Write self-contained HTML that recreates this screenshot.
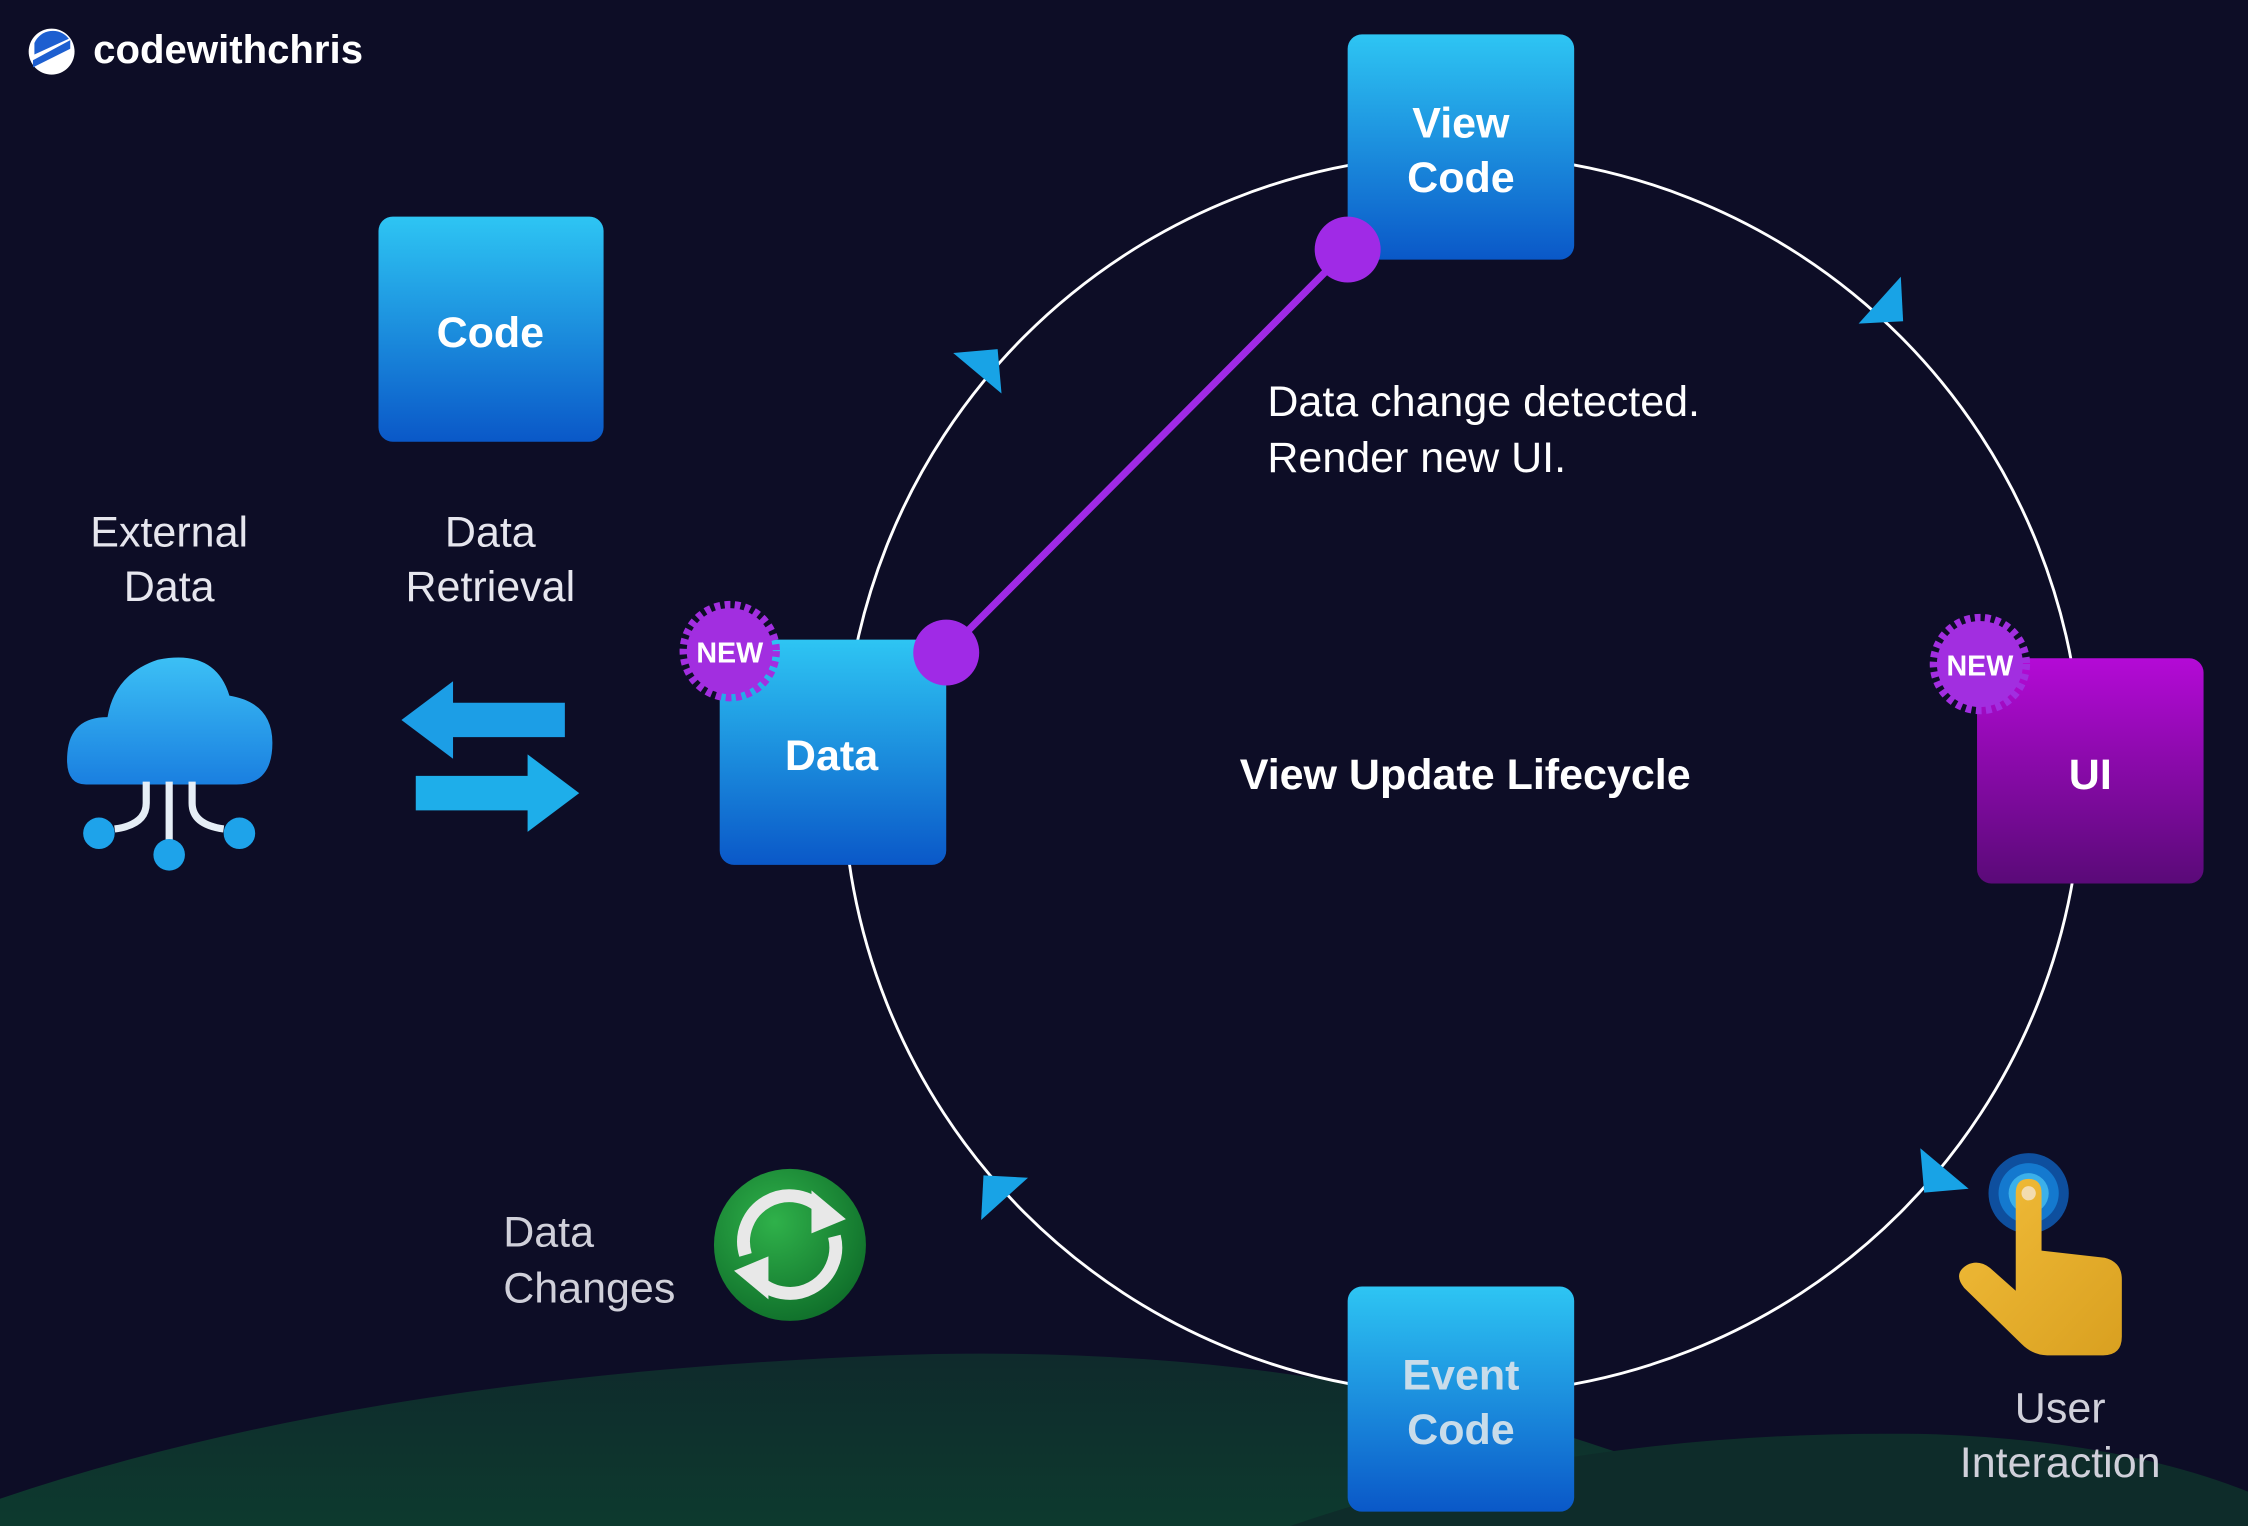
<!DOCTYPE html>
<html><head><meta charset="utf-8">
<style>
html,body{margin:0;padding:0;background:#0d0d26;overflow:hidden}
svg{display:block}
text{font-family:"Liberation Sans",sans-serif}
</style></head><body>
<svg width="2248" height="1526" viewBox="0 0 1568 1064" preserveAspectRatio="none" xmlns="http://www.w3.org/2000/svg">
<defs>
<linearGradient id="blue" x1="0" y1="0" x2="0" y2="1"><stop offset="0" stop-color="#2ec5f3"/><stop offset="1" stop-color="#0a58c8"/></linearGradient>
<linearGradient id="purp" x1="0" y1="0" x2="0" y2="1"><stop offset="0" stop-color="#b40ad6"/><stop offset="1" stop-color="#5a0a78"/></linearGradient>
<linearGradient id="hill" x1="0" y1="0" x2="0" y2="1"><stop offset="0" stop-color="#0f2a2c"/><stop offset="1" stop-color="#0d3a2e"/></linearGradient>
<linearGradient id="cloud" x1="0" y1="0" x2="0" y2="1"><stop offset="0" stop-color="#3cc0f5"/><stop offset="1" stop-color="#1a7fe0"/></linearGradient>
<linearGradient id="hand" x1="0" y1="0" x2="1" y2="1"><stop offset="0" stop-color="#f2bd3a"/><stop offset="1" stop-color="#d9a020"/></linearGradient>
<radialGradient id="green" cx="0.4" cy="0.35" r="0.7"><stop offset="0" stop-color="#2fb14a"/><stop offset="1" stop-color="#0f6e2a"/></radialGradient>
<polygon id="arr" points="6,0 -16,-22 -16,22" fill="#18a3e6"/>
</defs>
<rect width="1568" height="1064" fill="#0d0d26"/>
<!-- hills -->
<path d="M0 1064 L0 1045 Q 250 960 620 945 Q 900 935 1120 1010 Q 1200 1035 1250 1064 Z" fill="url(#hill)"/>
<path d="M900 1064 Q 1100 995 1350 1000 Q 1480 1005 1568 1040 L1568 1064 Z" fill="#0e2c2a"/>
<!-- logo -->
<circle cx="36" cy="36" r="16" fill="#fff"/>
<path d="M23 42 L49 28 L49 34 L23 47 Z" fill="#1d5fd0"/>
<path d="M24 30 A14 14 0 0 1 48 27 L24 38Z" fill="#1d5fd0"/>
<text x="65" y="44" font-size="28" font-weight="bold" fill="#fff">codewithchris</text>
<!-- cycle circle -->
<circle cx="1020" cy="540" r="432" fill="none" stroke="#fff" stroke-width="2"/>
<use href="#arr" transform="translate(692,248) rotate(-50)"/>
<use href="#arr" transform="translate(1323,220) rotate(42)"/>
<use href="#arr" transform="translate(1346,827) rotate(130)"/>
<use href="#arr" transform="translate(690,824) rotate(228)"/>
<!-- purple connector -->
<line x1="660" y1="455" x2="940" y2="174" stroke="#a02ae6" stroke-width="5"/>
<!-- boxes -->
<rect x="940" y="24" width="158" height="157" rx="10" fill="url(#blue)"/>
<text x="1019" y="96" font-size="30" font-weight="bold" fill="#fff" text-anchor="middle">View</text>
<text x="1019" y="134" font-size="30" font-weight="bold" fill="#fff" text-anchor="middle">Code</text>
<rect x="264" y="151" width="157" height="157" rx="10" fill="url(#blue)"/>
<text x="342" y="242" font-size="30" font-weight="bold" fill="#fff" text-anchor="middle">Code</text>
<rect x="502" y="446" width="158" height="157" rx="10" fill="url(#blue)"/>
<text x="580" y="537" font-size="30" font-weight="bold" fill="#fff" text-anchor="middle">Data</text>
<rect x="1379" y="459" width="158" height="157" rx="10" fill="url(#purp)"/>
<text x="1458" y="550" font-size="30" font-weight="bold" fill="#fff" text-anchor="middle">UI</text>
<rect x="940" y="897" width="158" height="157" rx="10" fill="url(#blue)"/>
<text x="1019" y="969" font-size="30" font-weight="bold" fill="#c8dcea" text-anchor="middle">Event</text>
<text x="1019" y="1007" font-size="30" font-weight="bold" fill="#c8dcea" text-anchor="middle">Code</text>
<circle cx="940" cy="174" r="23" fill="#a02ae6"/>
<circle cx="660" cy="455" r="23" fill="#a02ae6"/>
<!-- NEW badges -->
<g transform="translate(509,454)"><circle r="30" fill="#a22ee0"/><circle r="32" fill="none" stroke="#a22ee0" stroke-width="6" stroke-dasharray="4 3"/><text y="8" font-size="20" font-weight="bold" fill="#fff" text-anchor="middle">NEW</text></g>
<g transform="translate(1381,463)"><circle r="30" fill="#a22ee0"/><circle r="32" fill="none" stroke="#a22ee0" stroke-width="6" stroke-dasharray="4 3"/><text y="8" font-size="20" font-weight="bold" fill="#fff" text-anchor="middle">NEW</text></g>
<!-- texts -->
<text x="884" y="290" font-size="30" fill="#fff">Data change detected.</text>
<text x="884" y="329" font-size="30" fill="#fff">Render new UI.</text>
<text x="1022" y="550" font-size="30" font-weight="bold" fill="#fff" text-anchor="middle">View Update Lifecycle</text>
<text x="118" y="381" font-size="30" fill="#e6e6ee" text-anchor="middle">External</text>
<text x="118" y="419" font-size="30" fill="#e6e6ee" text-anchor="middle">Data</text>
<text x="342" y="381" font-size="30" fill="#e6e6ee" text-anchor="middle">Data</text>
<text x="342" y="419" font-size="30" fill="#e6e6ee" text-anchor="middle">Retrieval</text>
<text x="351" y="869" font-size="30" fill="#d0d0da">Data</text>
<text x="351" y="908" font-size="30" fill="#d0d0da">Changes</text>
<text x="1437" y="992" font-size="30" fill="#d0d0da" text-anchor="middle">User</text>
<text x="1437" y="1030" font-size="30" fill="#d0d0da" text-anchor="middle">Interaction</text>
<!-- cloud -->
<g>
<path d="M60 547 Q45 547 47 525 Q49 500 75 500 Q80 470 110 460 Q150 452 160 485 Q190 490 190 518 Q190 547 165 547 Z" fill="url(#cloud)"/>
<path d="M118 545 V595 M102 545 V560 Q102 575 80 578 M134 545 V560 Q134 575 156 578" stroke="#e6eef6" stroke-width="5" fill="none"/>
<circle cx="69" cy="581" r="11" fill="#1ea3ea"/><circle cx="118" cy="596" r="11" fill="#1ea3ea"/><circle cx="167" cy="581" r="11" fill="#1ea3ea"/>
</g>
<!-- exchange arrows -->
<path d="M394 490 H316 V475 L280 502 L316 529 V514 H394 Z" fill="#1c9ee6"/>
<path d="M290 541 H368 V526 L404 553 L368 580 V565 H290 Z" fill="#1eaeea"/>
<!-- sync -->
<circle cx="551" cy="868" r="53" fill="url(#green)"/>
<path d="M520 875 A32 32 0 0 1 575 845" stroke="#e8e8e8" stroke-width="9" fill="none"/>
<polygon points="566,830 590,850 566,860" fill="#e8e8e8"/>
<path d="M582 862 A32 32 0 0 1 527 891" stroke="#e8e8e8" stroke-width="9" fill="none"/>
<polygon points="536,906 512,886 536,876" fill="#e8e8e8"/>
<!-- hand -->
<circle cx="1415" cy="832" r="28" fill="#0e4f9e"/><circle cx="1415" cy="832" r="21" fill="#1479cf"/><circle cx="1415" cy="832" r="14" fill="#3bb0ea"/>
<path d="M1406 832 Q1406 822 1415 822 Q1424 822 1424 832 V872 L1468 877 Q1480 880 1480 892 V932 Q1480 945 1467 945 H1428 Q1418 945 1410 937 L1370 898 Q1362 888 1372 882 Q1380 878 1388 884 L1406 900 Z" fill="url(#hand)"/>
<circle cx="1415" cy="832" r="5" fill="#f3dcb0"/>
</svg>
</body></html>
